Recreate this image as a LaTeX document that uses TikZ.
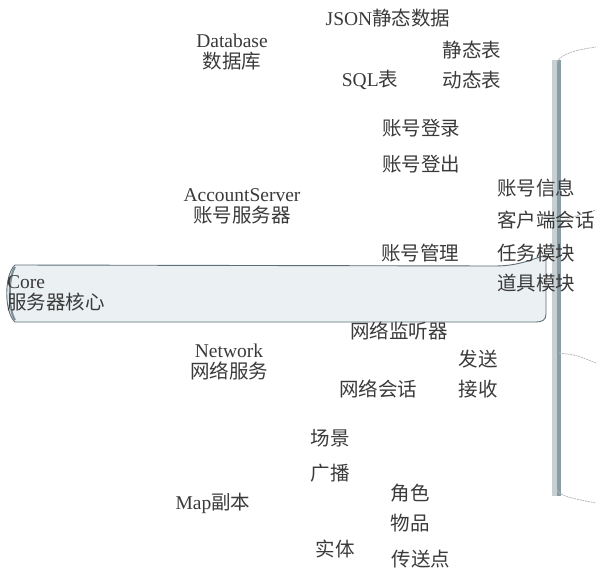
\documentclass[tikz,border=0pt]{standalone}
\usepackage{fontspec}
\setmainfont{Liberation Serif}
\newfontfamily\cjk{Noto Sans CJK SC}
\definecolor{txt}{HTML}{3A3A3A}
\definecolor{coreline}{HTML}{5C6E77}
\definecolor{corefill}{HTML}{EBF0F3}
\definecolor{barlight}{HTML}{C6D0D3}
\definecolor{bardark}{HTML}{8A9CA4}
\tikzset{
  lbl/.style={font=\fontsize{19.5}{21}\selectfont, inner sep=0pt, text=txt, align=center},
  corebox/.style={draw=coreline, fill=corefill, line width=0.9pt},
  curl/.style={draw=gray!55, line width=0.8pt, dash pattern=on 2pt off 0.8pt}
}
\begin{document}
\begin{tikzpicture}[x=1pt,y=-1pt]
  \useasboundingbox (0,0) rectangle (596,583);
  % core box
  \draw[corebox] (15,265) -- (495,266) .. controls (520,266) and (535,258) .. (546,255)
    -- (546,314) .. controls (546,320) and (542,322) .. (536,322) -- (15,322)
    .. controls (4,312) and (4,275) .. (15,265) -- cycle;
  \draw[coreline!80, line width=2pt] (15,267) .. controls (8,278) and (8,309) .. (15,320);
  % right bar
  \fill[barlight] (552,60) rectangle (557,496);
  \fill[bardark] (557,60) rectangle (561,496);
  \draw[curl] (557,62) .. controls (561,54) and (575,50) .. (596,47);
  \draw[curl] (559,223) .. controls (572,217) .. (596,210);
  \draw[curl] (559,353) .. controls (576,355) .. (596,363);
  \draw[curl] (557,490) .. controls (561,497) and (576,499) .. (596,503);
  % labels
  \node[lbl] (json) at (388,18) {JSON\cjk 静态数据};
  \node[lbl] (db) at (232,52) {Database\\\cjk 数据库};
  \node[lbl] (static) at (472,50) {\cjk 静态表};
  \node[lbl] (sql) at (370,80) {SQL\cjk 表};
  \node[lbl] (dynamic) at (472,80) {\cjk 动态表};
  \node[lbl] (login) at (421,128) {\cjk 账号登录};
  \node[lbl] (logout) at (421,164) {\cjk 账号登出};
  \node[lbl] (accinfo) at (536,188) {\cjk 账号信息};
  \node[lbl] (account) at (242,206) {AccountServer\\\cjk 账号服务器};
  \node[lbl] (client) at (546,220) {\cjk 客户端会话};
  \node[lbl] (accmgr) at (420,253) {\cjk 账号管理};
  \node[lbl] (task) at (536,253) {\cjk 任务模块};
  \node[lbl, align=left, anchor=west] (core) at (7,293) {Core\\\cjk 服务器核心};
  \node[lbl] (item) at (536,283) {\cjk 道具模块};
  \node[lbl] (listen) at (399,331) {\cjk 网络监听器};
  \node[lbl] (network) at (229,362) {Network\\\cjk 网络服务};
  \node[lbl] (send) at (478,359) {\cjk 发送};
  \node[lbl] (session) at (378,389) {\cjk 网络会话};
  \node[lbl] (recv) at (478,389) {\cjk 接收};
  \node[lbl] (scene) at (330,438) {\cjk 场景};
  \node[lbl] (bcast) at (330,473) {\cjk 广播};
  \node[lbl] (map) at (213,503) {Map\cjk 副本};
  \node[lbl] (role) at (410,493) {\cjk 角色};
  \node[lbl] (goods) at (410,523) {\cjk 物品};
  \node[lbl] (entity) at (335,549) {\cjk 实体};
  \node[lbl] (portal) at (421,559) {\cjk 传送点};
\end{tikzpicture}
\end{document}
